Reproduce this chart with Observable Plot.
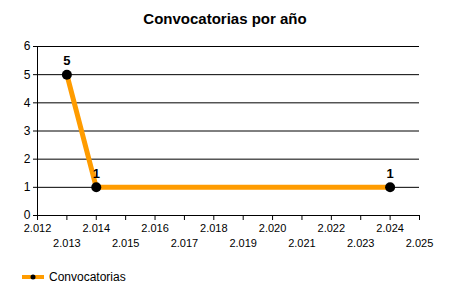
<!DOCTYPE html>
<html>
<head>
<meta charset="utf-8">
<script src="https://cdn.jsdelivr.net/npm/d3@7"></script>
<script src="https://cdn.jsdelivr.net/npm/@observablehq/plot@0.6"></script>
<style>
  body { margin: 0; background: #fff; font-family: "Liberation Sans", Arial, sans-serif; }
  #wrap { width: 450px; height: 300px; position: relative; overflow: hidden; }
  #title { position: absolute; left: 0; top: 10px; width: 450px; text-align: center; font-weight: bold; font-size: 15px; color: #000; }
  #chart { position: absolute; left: 0; top: 36px; }
  #legend { position: absolute; left: 0; top: 268px; }
</style>
</head>
<body>
<div id="wrap">
  <div id="title">Convocatorias por año</div>
  <div id="chart"></div>
  <div id="legend"></div>
</div>
<script>
const years = [2013, 2014, 2024];
const counts = [5, 1, 1];
const seriesName = "Convocatorias";
const evenTicks = [2012, 2014, 2016, 2018, 2020, 2022, 2024];
const oddTicks = [2013, 2015, 2017, 2019, 2021, 2023, 2025];
const yTicks = [0, 1, 2, 3, 4, 5, 6];

const data = years.map((y, i) => ({year: y, value: counts[i]}));
const fmt = d => `${Math.floor(d / 1000)}.${String(d % 1000).padStart(3, "0")}`;
const lineColor = "#FF9C00";

const plot = Plot.plot({
  width: 450,
  height: 222,
  marginLeft: 37,
  marginRight: 31,
  marginTop: 10,
  marginBottom: 43,
  style: {fontFamily: "Liberation Sans, Arial, sans-serif", fontSize: "11px", color: "#000", background: "white"},
  x: {domain: [2012, 2025]},
  y: {domain: [0, 6]},
  marks: [
    Plot.gridY(yTicks, {stroke: "#000", strokeOpacity: 1, strokeWidth: 1}),
    Plot.ruleX([2012], {stroke: "#000", strokeWidth: 1}),
    Plot.axisY({ticks: yTicks, tickSize: 4, tickPadding: 3, fontSize: 12, tickFormat: d => String(d), label: null}),
    Plot.axisX({ticks: evenTicks, tickSize: 5, tickPadding: 4, tickFormat: fmt, label: null}),
    Plot.axisX({ticks: oddTicks, tickSize: 5, tickPadding: 19, tickFormat: fmt, label: null}),
    Plot.line(data, {x: "year", y: "value", stroke: lineColor, strokeWidth: 5}),
    Plot.dot(data, {x: "year", y: "value", r: 5, fill: "#000"}),
    Plot.text(data, {x: "year", y: "value", text: d => String(d.value), dy: -14, fontWeight: "bold", fontSize: 13, fill: "#000"})
  ]
});
document.getElementById("chart").appendChild(plot);

document.getElementById("legend").innerHTML = `
<svg width="200" height="20" style="display:block">
  <line x1="22" x2="44" y1="9" y2="9" stroke="${lineColor}" stroke-width="4"/>
  <circle cx="33" cy="9" r="2.5" fill="#000"/>
  <text x="49" y="13" font-family="Liberation Sans, Arial, sans-serif" font-size="12" fill="#000">${seriesName}</text>
</svg>`;
</script>
</body>
</html>
